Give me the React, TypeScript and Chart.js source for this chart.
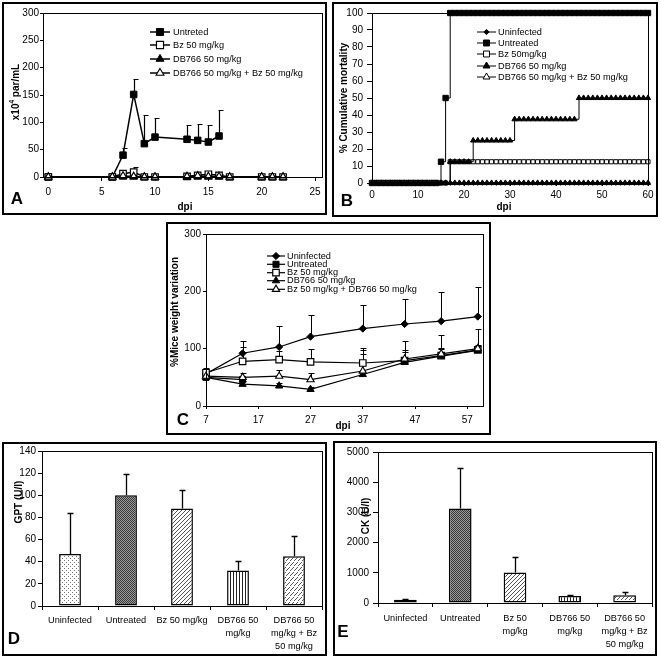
import React, { useEffect, useRef } from 'react';
import { Chart, registerables } from 'chart.js';

Chart.register(...registerables);

const FONT = "'Liberation Sans', Arial, Helvetica, sans-serif";
Chart.defaults.font.family = FONT;

// ---------------- Panel A : parasitemia ----------------
const aDaysUntreated = [0, 6, 7, 8, 9, 10, 13, 14, 15, 16];
const aUntreated = [0, 0, 40, 151, 61, 73, 69, 67, 64, 75];
const aUntreatedErr = [null, null, 53, 179, 113, 108, 95, 97, 95, 123];
const aDaysTreated = [0, 6, 7, 8, 9, 10, 13, 14, 15, 16, 17, 20, 21, 22];
const aBz = [0, 0, 6, 9, 0, 0, 1, 3, 5, 3, 0, 0, 0, 0];
const aBzErr = [null, null, 7, 18, null, null, null, null, 6, 5, null, null, null, null];
const aDB766 = [0, 0, 0, 0, 0, 0, 0, 0, 0, 0, 0, 0, 0, 0];
const aDB766Bz = [0, 0, 2, 1, 0, 0, 1, 2, 1, 1, 0, 0, 0, 0];
const aXTicks = [0, 5, 10, 15, 20, 25];
const aLegendLabels = ['Untreted', 'Bz 50 mg/kg', 'DB766 50 mg/kg', 'DB766 50 mg/kg + Bz 50 mg/kg'];

// ---------------- Panel B : cumulative mortality ----------------
const bDays = [
  0, 1, 2, 3, 4, 5, 6, 7, 8, 9,
  10, 11, 12, 13, 14, 15, 16, 17, 18, 19,
  20, 21, 22, 23, 24, 25, 26, 27, 28, 29,
  30, 31, 32, 33, 34, 35, 36, 37, 38, 39,
  40, 41, 42, 43, 44, 45, 46, 47, 48, 49,
  50, 51, 52, 53, 54, 55, 56, 57, 58, 59,
  60,
];
const bUninfected = [
  0, 0, 0, 0, 0, 0, 0, 0, 0, 0,
  0, 0, 0, 0, 0, 0, 0, 0, 0, 0,
  0, 0, 0, 0, 0, 0, 0, 0, 0, 0,
  0, 0, 0, 0, 0, 0, 0, 0, 0, 0,
  0, 0, 0, 0, 0, 0, 0, 0, 0, 0,
  0, 0, 0, 0, 0, 0, 0, 0, 0, 0,
  0,
];
const bUntreated = [
  0, 0, 0, 0, 0, 0, 0, 0, 0, 0,
  0, 0, 0, 0, 0, 12.5, 50, 100, 100, 100,
  100, 100, 100, 100, 100, 100, 100, 100, 100, 100,
  100, 100, 100, 100, 100, 100, 100, 100, 100, 100,
  100, 100, 100, 100, 100, 100, 100, 100, 100, 100,
  100, 100, 100, 100, 100, 100, 100, 100, 100, 100,
  100,
];
const bBz = [
  0, 0, 0, 0, 0, 0, 0, 0, 0, 0,
  0, 0, 0, 0, 0, 0, 0, 12.5, 12.5, 12.5,
  12.5, 12.5, 12.5, 12.5, 12.5, 12.5, 12.5, 12.5, 12.5, 12.5,
  12.5, 12.5, 12.5, 12.5, 12.5, 12.5, 12.5, 12.5, 12.5, 12.5,
  12.5, 12.5, 12.5, 12.5, 12.5, 12.5, 12.5, 12.5, 12.5, 12.5,
  12.5, 12.5, 12.5, 12.5, 12.5, 12.5, 12.5, 12.5, 12.5, 12.5,
  12.5,
];
const bDB766 = [
  0, 0, 0, 0, 0, 0, 0, 0, 0, 0,
  0, 0, 0, 0, 0, 0, 0, 12.5, 12.5, 12.5,
  12.5, 12.5, 25, 25, 25, 25, 25, 25, 25, 25,
  25, 37.5, 37.5, 37.5, 37.5, 37.5, 37.5, 37.5, 37.5, 37.5,
  37.5, 37.5, 37.5, 37.5, 37.5, 50, 50, 50, 50, 50,
  50, 50, 50, 50, 50, 50, 50, 50, 50, 50,
  50,
];
const bDB766Bz = [
  0, 0, 0, 0, 0, 0, 0, 0, 0, 0,
  0, 0, 0, 0, 0, 0, 0, 0, 0, 0,
  0, 0, 0, 0, 0, 0, 0, 0, 0, 0,
  0, 0, 0, 0, 0, 0, 0, 0, 0, 0,
  0, 0, 0, 0, 0, 0, 0, 0, 0, 0,
  0, 0, 0, 0, 0, 0, 0, 0, 0, 0,
  0,
];
const bLegendLabels = ['Uninfected', 'Untreated', 'Bz 50mg/kg', 'DB766 50 mg/kg', 'DB766 50 mg/kg + Bz 50 mg/kg'];

// ---------------- Panel C : weight variation ----------------
const cDays = [7, 14, 21, 27, 37, 45, 52, 59];
const cUninfected = [56, 92, 103, 121, 135, 143, 148, 156];
const cUninfectedErr = [62, 114, 139, 159, 177, 186, 198, 208];
const cUntreatedDays = [7, 14];
const cUntreated = [50, 46];
const cBz = [58, 78, 81, 77, 75, 79, 88, 98];
const cBzErr = [66, 103, 96, 100, 102, 114, 124, 135];
const cDB766 = [50, 38, 35, 29, 55, 76, 87, 97];
const cDB766Err = [54, 44, 40, 34, 90, 95, 100, 104];
const cDB766Bz = [52, 50, 52, 46, 61, 82, 91, 100];
const cDB766BzErr = [58, 58, 62, 58, 97, 97, 101, 106];
const cXTicks = [7, 17, 27, 37, 47, 57];
const cLegendLabels = ['Uninfected', 'Untreated', 'Bz 50 mg/kg', 'DB766 50 mg/kg', 'Bz 50 mg/kg + DB766 50 mg/kg'];

// ---------------- Panel D : GPT ----------------
const dCategories = ['Uninfected', 'Untreated', 'Bz 50 mg/kg', ['DB766 50', 'mg/kg'], ['DB766 50', 'mg/kg + Bz', '50 mg/kg']];
const dValues = [47, 100, 88, 32, 45];
const dErr = [84, 119, 105, 41, 63];

// ---------------- Panel E : CK ----------------
const eCategories = ['Uninfected', 'Untreated', ['Bz 50', 'mg/kg'], ['DB766 50', 'mg/kg'], ['DB766 50', 'mg/kg + Bz', '50 mg/kg']];
const eValues = [110, 3130, 1010, 230, 260];
const eErr = [140, 4470, 1530, 255, 380];

// ---------------- layout ----------------
const BOX_A = { x: 2, y: 2, w: 325, h: 213 };
const BOX_B = { x: 332, y: 2, w: 326, h: 215 };
const BOX_C = { x: 166, y: 222, w: 325, h: 213 };
const BOX_D = { x: 2, y: 442, w: 325, h: 214 };
const BOX_E = { x: 333, y: 441, w: 324, h: 215 };

type Mk = { style: string; r: number; fill: string; stroke: string; bw: number };

function drawMk(ctx: CanvasRenderingContext2D, mk: Mk, x: number, y: number) {
  const r = mk.r;
  ctx.beginPath();
  if (mk.style === 'rect') {
    const s = r * Math.SQRT1_2;
    ctx.rect(x - s, y - s, 2 * s, 2 * s);
  } else if (mk.style === 'triangle') {
    for (let k = 0; k < 3; k++) {
      const a = (k * 2 * Math.PI) / 3;
      const px = x + Math.sin(a) * r;
      const py = y - Math.cos(a) * r;
      if (k === 0) ctx.moveTo(px, py);
      else ctx.lineTo(px, py);
    }
    ctx.closePath();
  } else {
    ctx.moveTo(x - r, y);
    ctx.lineTo(x, y - r);
    ctx.lineTo(x + r, y);
    ctx.lineTo(x, y + r);
    ctx.closePath();
  }
  ctx.fillStyle = mk.fill;
  ctx.fill();
  if (mk.bw > 0) {
    ctx.lineWidth = mk.bw;
    ctx.strokeStyle = mk.stroke;
    ctx.stroke();
  }
}

type Part = { t: string; size: number; bold?: boolean; dy?: number };
type TextItem = { parts: Part[]; x: number; y: number; rot?: boolean };
type LegendCfg = { x1: number; x2: number; tx: number; lw: number; size: number; ys: number[]; labels: string[]; mks: Mk[] };
type ErrCfg = { lw: number; capL: number; capR: number };

const fontStr = (p: Part) => `${p.bold ? 'bold ' : ''}${p.size}px ${FONT}`;

function decorPlugin(cfg: { texts: TextItem[]; legend?: LegendCfg; err?: ErrCfg }) {
  return {
    id: 'decor',
    beforeDatasetsDraw(chart: any) {
      if (!cfg.err) return;
      const ctx = chart.ctx;
      const ys = chart.scales.y;
      ctx.save();
      ctx.strokeStyle = '#000';
      ctx.lineWidth = cfg.err.lw;
      chart.data.datasets.forEach((ds: any, di: number) => {
        if (!ds.errTop) return;
        const meta = chart.getDatasetMeta(di);
        meta.data.forEach((el: any, i: number) => {
          const e = ds.errTop[i];
          if (e === null || e === undefined) return;
          const px = Math.round(el.x) + 0.5;
          const ey = Math.round(ys.getPixelForValue(e)) + 0.5;
          ctx.beginPath();
          ctx.moveTo(px, el.y);
          ctx.lineTo(px, ey);
          ctx.moveTo(px - cfg.err!.capL, ey);
          ctx.lineTo(px + cfg.err!.capR, ey);
          ctx.stroke();
        });
      });
      ctx.restore();
    },
    afterDraw(chart: any) {
      const ctx: CanvasRenderingContext2D = chart.ctx;
      const a = chart.chartArea;
      ctx.save();
      // plot frame
      ctx.strokeStyle = '#000';
      ctx.lineWidth = 1;
      const x0 = Math.round(a.left) + 0.5;
      const x1 = Math.round(a.right) + 0.5;
      const y0 = Math.round(a.top) + 0.5;
      const y1 = Math.round(a.bottom) + 0.5;
      ctx.strokeRect(x0, y0, x1 - x0, y1 - y0);
      // panel box
      ctx.lineWidth = 2;
      ctx.strokeRect(1, 1, chart.width - 2, chart.height - 2);
      // legend
      const L = cfg.legend;
      if (L) {
        L.labels.forEach((lab, i) => {
          const y = L.ys[i];
          ctx.strokeStyle = '#000';
          ctx.lineWidth = L.lw;
          ctx.beginPath();
          ctx.moveTo(L.x1, y);
          ctx.lineTo(L.x2, y);
          ctx.stroke();
          drawMk(ctx, L.mks[i], (L.x1 + L.x2) / 2, y);
          ctx.fillStyle = '#000';
          ctx.font = `${L.size}px ${FONT}`;
          ctx.textAlign = 'left';
          ctx.textBaseline = 'middle';
          ctx.fillText(lab, L.tx, y);
        });
      }
      // texts
      cfg.texts.forEach((it) => {
        ctx.save();
        ctx.translate(it.x, it.y);
        if (it.rot) ctx.rotate(-Math.PI / 2);
        ctx.textBaseline = 'middle';
        ctx.textAlign = 'left';
        ctx.fillStyle = '#000';
        let total = 0;
        it.parts.forEach((p) => {
          ctx.font = fontStr(p);
          total += ctx.measureText(p.t).width;
        });
        let cx = -total / 2;
        it.parts.forEach((p) => {
          ctx.font = fontStr(p);
          ctx.fillText(p.t, cx, p.dy || 0);
          cx += ctx.measureText(p.t).width;
        });
        ctx.restore();
      });
      ctx.restore();
    },
  };
}

function axis(o: any) {
  const s: any = {
    type: o.type || 'linear',
    offset: o.type === 'category',
    ticks: {
      padding: o.pad,
      color: '#000',
      font: { family: FONT, size: o.fontSize || 10, lineHeight: o.lineHeight || 1.2 },
      maxRotation: 0,
      minRotation: 0,
      autoSkip: false,
    },
    grid: { display: true, drawOnChartArea: false, drawTicks: true, tickLength: o.tickLen, color: '#000', lineWidth: 1 },
    border: { display: true, color: '#000', width: 1 },
    afterFit: (sc: any) => {
      if (o.isY) sc.width = o.size;
      else sc.height = o.size;
    },
  };
  if (o.type !== 'category') {
    s.min = o.min;
    s.max = o.max;
    if (o.step) s.ticks.stepSize = o.step;
    s.ticks.callback = (v: any) => String(v);
  }
  if (o.ticks) s.afterBuildTicks = (sc: any) => { sc.ticks = o.ticks.map((v: number) => ({ value: v })); };
  return s;
}

function baseOptions(lay: any, x: any, y: any) {
  return {
    responsive: false,
    animation: false,
    events: [],
    layout: { padding: { left: 0, top: lay.top, right: lay.right, bottom: 0 }, autoPadding: false },
    plugins: { legend: { display: false }, tooltip: { enabled: false }, title: { display: false } },
    scales: { x, y },
  };
}

function lineDs(label: string, xs: number[], ys: number[], err: any, mk: Mk, order: number, lw: number, stepped: any) {
  return {
    label,
    data: xs.map((x, i) => ({ x, y: ys[i] })),
    errTop: err,
    borderColor: '#000',
    borderWidth: lw,
    backgroundColor: mk.fill,
    fill: false,
    pointStyle: mk.style,
    pointRadius: mk.r,
    pointHoverRadius: mk.r,
    pointBackgroundColor: mk.fill,
    pointBorderColor: mk.stroke,
    pointBorderWidth: mk.bw,
    pointHoverBorderWidth: mk.bw,
    stepped,
    tension: 0,
    clip: false,
    order,
  };
}

function buildA(): any {
  const mks: Mk[] = [
    { style: 'rect', r: 4.6, fill: '#000', stroke: '#000', bw: 1 },
    { style: 'rect', r: 4.6, fill: '#fff', stroke: '#000', bw: 1.2 },
    { style: 'triangle', r: 4.3, fill: '#000', stroke: '#000', bw: 1 },
    { style: 'triangle', r: 4.3, fill: '#fff', stroke: '#000', bw: 1.1 },
  ];
  const legMks: Mk[] = [
    { style: 'rect', r: 5, fill: '#000', stroke: '#000', bw: 1 },
    { style: 'rect', r: 5, fill: '#fff', stroke: '#000', bw: 1.2 },
    { style: 'triangle', r: 4.6, fill: '#000', stroke: '#000', bw: 1 },
    { style: 'triangle', r: 4.6, fill: '#fff', stroke: '#000', bw: 1.1 },
  ];
  const xs = [aDaysUntreated, aDaysTreated, aDaysTreated, aDaysTreated];
  const ys = [aUntreated, aBz, aDB766, aDB766Bz];
  const errs = [aUntreatedErr, aBzErr, null, null];
  const datasets = ys.map((y, i) => lineDs(aLegendLabels[i], xs[i], y, errs[i], mks[i], 4 - i, 1.5, false));
  const lay = { yW: 41, xH: 38, top: 11, right: 5 };
  return {
    type: 'line',
    data: { datasets },
    options: baseOptions(
      lay,
      axis({ min: -0.5, max: 25.65, ticks: aXTicks, isY: false, size: lay.xH, tickLen: 4, pad: 5 }),
      axis({ min: 0, max: 300, step: 50, isY: true, size: lay.yW, tickLen: 3, pad: 1 }),
    ),
    plugins: [
      decorPlugin({
        err: { lw: 1.2, capL: 1, capR: 4 },
        legend: { x1: 148, x2: 168, tx: 171, lw: 1.5, size: 9.2, ys: [30, 43, 57, 71], labels: aLegendLabels, mks: legMks },
        texts: [
          { parts: [{ t: 'A', size: 17, bold: true }], x: 15, y: 197 },
          { parts: [{ t: 'dpi', size: 10, bold: true }], x: 183, y: 205 },
          {
            parts: [
              { t: 'x10', size: 10, bold: true },
              { t: '4', size: 6.5, bold: true, dy: -4 },
              { t: ' par/mL', size: 10, bold: true },
            ],
            x: 14,
            y: 90,
            rot: true,
          },
        ],
      }),
    ],
  };
}

function buildB(): any {
  const mks: Mk[] = [
    { style: 'rectRot', r: 2.3, fill: '#000', stroke: '#000', bw: 1 },
    { style: 'rect', r: 3.8, fill: '#000', stroke: '#000', bw: 1 },
    { style: 'rect', r: 2.9, fill: '#fff', stroke: '#000', bw: 1 },
    { style: 'triangle', r: 3.1, fill: '#000', stroke: '#000', bw: 1 },
    { style: 'triangle', r: 3.1, fill: 'rgba(0,0,0,0)', stroke: '#000', bw: 1 },
  ];
  const legMks: Mk[] = [
    { style: 'rectRot', r: 2.6, fill: '#000', stroke: '#000', bw: 1 },
    { style: 'rect', r: 4.2, fill: '#000', stroke: '#000', bw: 1 },
    { style: 'rect', r: 4.2, fill: '#fff', stroke: '#000', bw: 1 },
    { style: 'triangle', r: 4, fill: '#000', stroke: '#000', bw: 1 },
    { style: 'triangle', r: 4, fill: '#fff', stroke: '#000', bw: 1 },
  ];
  const ys = [bUninfected, bUntreated, bBz, bDB766, bDB766Bz];
  const datasets = ys.map((y, i) => lineDs(bLegendLabels[i], bDays, y, null, mks[i], 5 - i, 1, 'before'));
  const lay = { yW: 40, xH: 34, top: 11, right: 10 };
  return {
    type: 'line',
    data: { datasets },
    options: baseOptions(
      lay,
      axis({ min: 0, max: 60, step: 10, isY: false, size: lay.xH, tickLen: 3, pad: 3 }),
      axis({ min: 0, max: 100, step: 10, isY: true, size: lay.yW, tickLen: 5, pad: 4 }),
    ),
    plugins: [
      decorPlugin({
        legend: { x1: 145, x2: 164, tx: 166, lw: 1, size: 9.2, ys: [30, 41, 52, 64, 75], labels: bLegendLabels, mks: legMks },
        texts: [
          { parts: [{ t: 'B', size: 17, bold: true }], x: 15, y: 199 },
          { parts: [{ t: 'dpi', size: 10, bold: true }], x: 172, y: 205 },
          { parts: [{ t: '% Cumulative mortality', size: 10, bold: true }], x: 12, y: 96, rot: true },
        ],
      }),
    ],
  };
}

function buildC(): any {
  const mks: Mk[] = [
    { style: 'rectRot', r: 3.6, fill: '#000', stroke: '#000', bw: 1 },
    { style: 'rect', r: 4.3, fill: '#000', stroke: '#000', bw: 1 },
    { style: 'rect', r: 4.6, fill: '#fff', stroke: '#000', bw: 1.2 },
    { style: 'triangle', r: 4.2, fill: '#000', stroke: '#000', bw: 1 },
    { style: 'triangle', r: 4.2, fill: '#fff', stroke: '#000', bw: 1.1 },
  ];
  const xs = [cDays, cUntreatedDays, cDays, cDays, cDays];
  const ys = [cUninfected, cUntreated, cBz, cDB766, cDB766Bz];
  const errs = [cUninfectedErr, null, cBzErr, cDB766Err, cDB766BzErr];
  const datasets = ys.map((y, i) => lineDs(cLegendLabels[i], xs[i], y, errs[i], mks[i], 5 - i, 1.2, false));
  const lay = { yW: 40, xH: 29, top: 12, right: 8 };
  return {
    type: 'line',
    data: { datasets },
    options: baseOptions(
      lay,
      axis({ min: 7, max: 60, ticks: cXTicks, isY: false, size: lay.xH, tickLen: 3, pad: 5 }),
      axis({ min: 0, max: 300, step: 100, isY: true, size: lay.yW, tickLen: 3, pad: 2 }),
    ),
    plugins: [
      decorPlugin({
        err: { lw: 1, capL: 3, capR: 3 },
        legend: { x1: 101, x2: 119, tx: 121, lw: 1.2, size: 9.2, ys: [34, 42.3, 50.7, 58.7, 67.3], labels: cLegendLabels, mks },
        texts: [
          { parts: [{ t: 'C', size: 17, bold: true }], x: 17, y: 198 },
          { parts: [{ t: 'dpi', size: 10, bold: true }], x: 177, y: 204 },
          { parts: [{ t: '%Mice weight variation', size: 10, bold: true }], x: 9, y: 90, rot: true },
        ],
      }),
    ],
  };
}

function makePattern(w: number, h: number, bg: string, fg: string, pix: number[][]) {
  const c = document.createElement('canvas');
  c.width = w;
  c.height = h;
  const g = c.getContext('2d')!;
  g.fillStyle = bg;
  g.fillRect(0, 0, w, h);
  g.fillStyle = fg;
  pix.forEach(([x, y]) => g.fillRect(x, y, 1, 1));
  return g.createPattern(c, 'repeat');
}

function barPatterns() {
  return [
    makePattern(4, 4, '#ffffff', '#777777', [[0, 0], [2, 2]]),
    makePattern(2, 2, '#9a9a9a', '#3a3a3a', [[0, 0], [1, 1]]),
    makePattern(4, 4, '#ffffff', '#555555', [[3, 0], [2, 1], [1, 2], [0, 3]]),
    makePattern(3, 1, '#ffffff', '#222222', [[0, 0]]),
    makePattern(4, 5, '#ffffff', '#555555', [[3, 0], [2, 1], [1, 2], [0, 3]]),
  ];
}

function buildBar(cats: any[], vals: number[], err: number[], yMax: number, yStep: number, lay: any, barPct: number, texts: TextItem[], xPad: number): any {
  return {
    type: 'bar',
    data: {
      labels: cats,
      datasets: [
        {
          data: vals,
          errTop: err,
          backgroundColor: barPatterns(),
          borderColor: '#000',
          borderWidth: 1.5,
          borderSkipped: false,
          barPercentage: barPct,
          categoryPercentage: 1,
        },
      ],
    },
    options: baseOptions(
      lay,
      axis({ type: 'category', isY: false, size: lay.xH, tickLen: 4, pad: xPad, fontSize: 9.2, lineHeight: 1.38 }),
      axis({ min: 0, max: yMax, step: yStep, isY: true, size: lay.yW, tickLen: lay.yTick, pad: lay.yPad }),
    ),
    plugins: [decorPlugin({ err: { lw: 1.3, capL: 3, capR: 3 }, texts })],
  };
}

function buildD(): any {
  return buildBar(dCategories, dValues, dErr, 140, 20, { yW: 40, xH: 50, top: 9, right: 5, yTick: 4, yPad: 2 }, 0.39, [
    { parts: [{ t: 'D', size: 17, bold: true }], x: 12, y: 197 },
    { parts: [{ t: 'GPT (U/l)', size: 10, bold: true }], x: 17, y: 60, rot: true },
  ], 4.6);
}

function buildE(): any {
  return buildBar(eCategories, eValues, eErr, 5000, 1000, { yW: 45, xH: 53, top: 11, right: 5, yTick: 5, yPad: 4 }, 0.414, [
    { parts: [{ t: 'E', size: 17, bold: true }], x: 10, y: 191 },
    { parts: [{ t: 'CK (U/l)', size: 10, bold: true }], x: 33, y: 75, rot: true },
  ], 5.6);
}

function Panel({ box, build }: { box: { x: number; y: number; w: number; h: number }; build: () => any }) {
  const ref = useRef<HTMLCanvasElement>(null);
  useEffect(() => {
    const chart = new Chart(ref.current as HTMLCanvasElement, build());
    return () => chart.destroy();
  }, []);
  return (
    <canvas
      ref={ref}
      width={box.w}
      height={box.h}
      style={{ position: 'absolute', left: box.x, top: box.y, width: box.w, height: box.h }}
    />
  );
}

export default function App() {
  return (
    <div style={{ position: 'fixed', left: 0, top: 0, width: 661, height: 659, background: '#fff', overflow: 'hidden' }}>
      <Panel box={BOX_A} build={buildA} />
      <Panel box={BOX_B} build={buildB} />
      <Panel box={BOX_C} build={buildC} />
      <Panel box={BOX_D} build={buildD} />
      <Panel box={BOX_E} build={buildE} />
    </div>
  );
}
